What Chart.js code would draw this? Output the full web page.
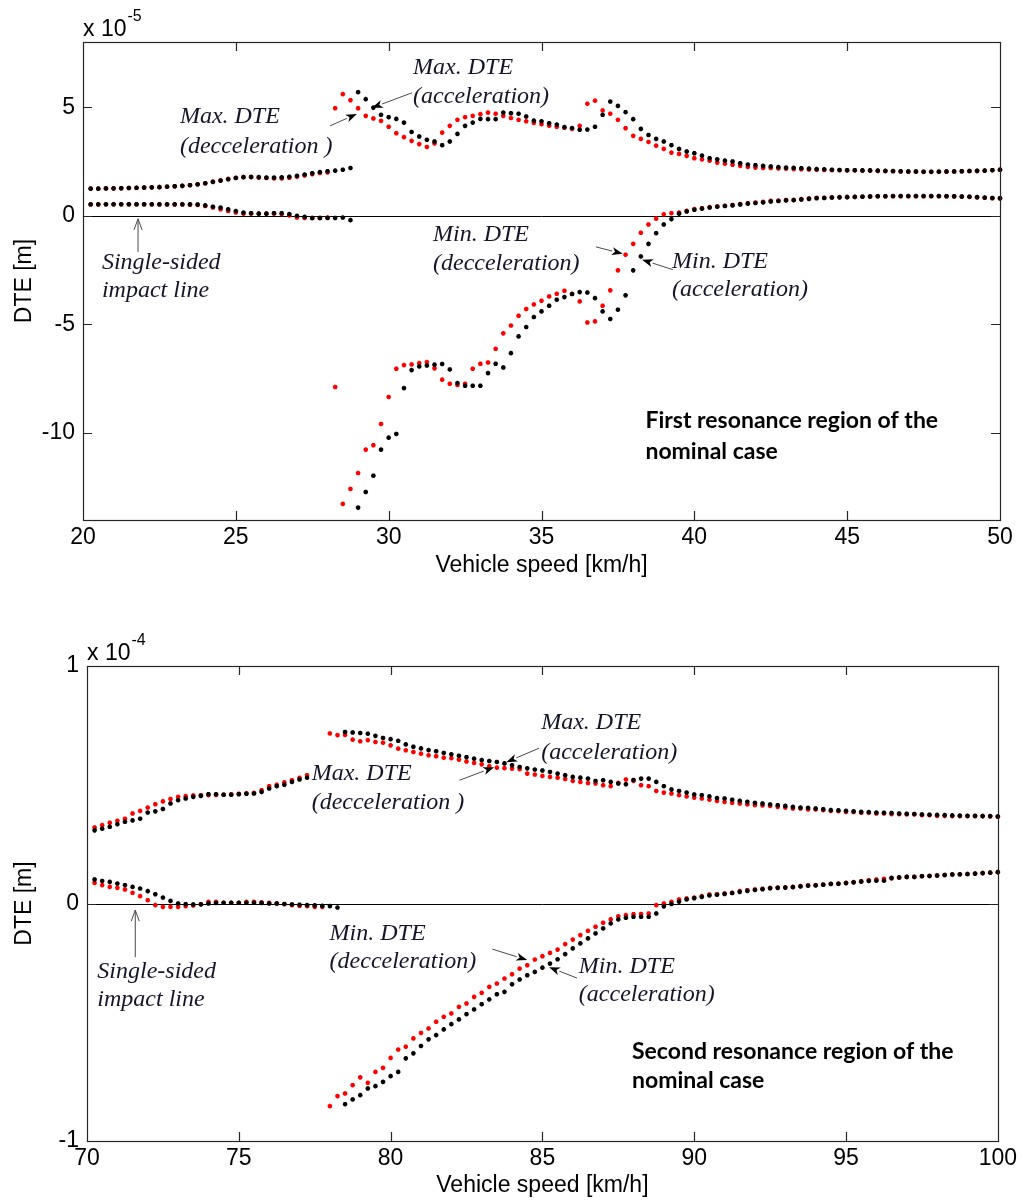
<!DOCTYPE html>
<html>
<head>
<meta charset="utf-8">
<title>DTE vs vehicle speed</title>
<script src="https://cdn.jsdelivr.net/npm/chart.js@4.4.1/dist/chart.umd.min.js"></script>
<style>
  body { margin: 0; background: #fff; }
  .panel { position: absolute; left: 0; width: 1021px; }
  #panel1 { top: 0; height: 590px; }
  #panel2 { top: 600px; height: 600px; }
</style>
</head>
<body>
<div class="panel" id="panel1"><canvas id="chart1" width="1021" height="590"></canvas></div>
<div class="panel" id="panel2"><canvas id="chart2" width="1021" height="600"></canvas></div>
<script>
// ---- first resonance region (DTE in x 1e-5 m) ----
const speed1 = [
  20.25, 20.5, 20.75, 21, 21.25, 21.5, 21.75, 22, 22.25, 22.5, 22.75, 23, 23.25, 23.5, 23.75, 24, 24.25, 24.5, 24.75, 25,
  25.25, 25.5, 25.75, 26, 26.25, 26.5, 26.75, 27, 27.25, 27.5, 27.75, 28, 28.25, 28.5, 28.75, 29, 29.25, 29.5, 29.75, 30,
  30.25, 30.5, 30.75, 31, 31.25, 31.5, 31.75, 32, 32.25, 32.5, 32.75, 33, 33.25, 33.5, 33.75, 34, 34.25, 34.5, 34.75, 35,
  35.25, 35.5, 35.75, 36, 36.25, 36.5, 36.75, 37, 37.25, 37.5, 37.75, 38, 38.25, 38.5, 38.75, 39, 39.25, 39.5, 39.75, 40,
  40.25, 40.5, 40.75, 41, 41.25, 41.5, 41.75, 42, 42.25, 42.5, 42.75, 43, 43.25, 43.5, 43.75, 44, 44.25, 44.5, 44.75, 45,
  45.25, 45.5, 45.75, 46, 46.25, 46.5, 46.75, 47, 47.25, 47.5, 47.75, 48, 48.25, 48.5, 48.75, 49, 49.25, 49.5, 49.75, 50
];
// red = decceleration, black = acceleration
const maxDecel1 = [
  1.25, 1.25, 1.26, 1.27, 1.27, 1.28, 1.29, 1.30, 1.31, 1.32, 1.34, 1.36, 1.38, 1.41, 1.45, 1.50, 1.57, 1.63, 1.70, 1.75,
  1.78, 1.78, 1.76, 1.74, 1.72, 1.72, 1.75, 1.80, 1.86, 1.92, 1.97, 2.00, 4.95, 5.60, 5.32, 4.95, 4.60, 4.48, 4.37, 4.10,
  3.80, 3.62, 3.45, 3.30, 3.17, 3.33, 3.83, 4.14, 4.42, 4.54, 4.60, 4.68, 4.75, 4.70, 4.60, 4.50, 4.42, 4.35, 4.28, 4.22,
  4.15, 4.10, 4.05, 4.00, 4.14, 5.16, 5.30, 4.85, 4.70, 4.42, 4.03, 3.68, 3.54, 3.40, 3.23, 3.08, 2.91, 2.85, 2.76, 2.65,
  2.60, 2.54, 2.45, 2.40, 2.35, 2.30, 2.25, 2.22, 2.20, 2.20, 2.18, 2.17, 2.15, 2.14, 2.13, 2.12, 2.11, 2.10, 2.10, 2.09,
  2.09, 2.08, 2.08, 2.07, 2.06, 2.05, 2.04, 2.03, 2.03, 2.02, 2.02, 2.03, 2.03, 2.04, 2.05, 2.06, 2.07, 2.08, 2.10, 2.12
];
const maxAccel1 = [
  1.25, 1.25, 1.26, 1.26, 1.27, 1.28, 1.29, 1.30, 1.31, 1.32, 1.34, 1.36, 1.38, 1.41, 1.45, 1.50, 1.56, 1.62, 1.68, 1.74,
  1.78, 1.79, 1.78, 1.76, 1.76, 1.77, 1.80, 1.84, 1.90, 1.96, 2.01, 2.05, 2.08, 2.12, 2.20, 5.69, 5.37, 4.98, 4.65, 4.54,
  4.46, 4.29, 3.86, 3.65, 3.50, 3.42, 3.25, 3.42, 3.77, 4.14, 4.29, 4.46, 4.45, 4.45, 4.75, 4.72, 4.70, 4.57, 4.38, 4.35,
  4.26, 4.20, 4.08, 4.04, 3.96, 3.97, 4.10, 4.65, 5.26, 5.06, 4.77, 4.45, 4.00, 3.72, 3.54, 3.42, 3.25, 3.08, 2.96, 2.88,
  2.77, 2.65, 2.60, 2.54, 2.50, 2.42, 2.36, 2.33, 2.30, 2.27, 2.24, 2.22, 2.21, 2.19, 2.17, 2.15, 2.14, 2.12, 2.11, 2.10,
  2.10, 2.09, 2.09, 2.08, 2.07, 2.06, 2.05, 2.04, 2.04, 2.03, 2.03, 2.03, 2.04, 2.04, 2.05, 2.06, 2.07, 2.08, 2.10, 2.12
];
const minDecel1 = [
  0.52, 0.52, 0.53, 0.53, 0.53, 0.53, 0.53, 0.53, 0.53, 0.52, 0.52, 0.52, 0.52, 0.51, 0.50, 0.45, 0.38, 0.30, 0.22, 0.15,
  0.10, 0.10, 0.10, 0.10, 0.10, 0.08, 0.02, -0.08, -0.10, -0.10, -0.10, -0.08, -7.88, -13.26, -12.57, -11.84, -10.76, -10.56, -9.58, -8.34,
  -7.04, -6.87, -6.84, -6.78, -6.73, -7.02, -7.54, -7.73, -7.79, -7.73, -7.04, -6.81, -6.75, -6.12, -5.41, -5.05, -4.60, -4.29, -4.08, -3.91,
  -3.71, -3.59, -3.45, -3.59, -3.94, -4.91, -4.86, -4.14, -3.43, -2.51, -1.79, -1.29, -0.78, -0.40, -0.13, 0.07, 0.12, 0.15, 0.23, 0.31,
  0.35, 0.40, 0.43, 0.46, 0.50, 0.54, 0.58, 0.61, 0.64, 0.69, 0.70, 0.73, 0.73, 0.77, 0.80, 0.83, 0.83, 0.85, 0.86, 0.86,
  0.87, 0.88, 0.89, 0.90, 0.90, 0.90, 0.90, 0.90, 0.90, 0.90, 0.90, 0.90, 0.90, 0.89, 0.88, 0.87, 0.85, 0.83, 0.81, 0.80
];
const minAccel1 = [
  0.53, 0.53, 0.53, 0.53, 0.53, 0.53, 0.53, 0.53, 0.53, 0.53, 0.53, 0.53, 0.53, 0.53, 0.52, 0.48, 0.42, 0.38, 0.30, 0.22,
  0.15, 0.12, 0.10, 0.10, 0.12, 0.12, 0.08, 0.00, -0.05, -0.10, -0.10, -0.10, -0.10, -0.08, -0.20, -13.43, -12.71, -11.96, -10.76, -10.21,
  -10.04, -7.93, -7.10, -6.93, -6.89, -6.85, -6.82, -7.07, -7.70, -7.82, -7.82, -7.82, -7.24, -6.81, -6.98, -6.32, -5.55, -5.12, -4.66, -4.40,
  -4.14, -3.86, -3.74, -3.60, -3.51, -3.53, -3.79, -4.40, -4.75, -4.32, -3.66, -2.51, -1.87, -1.29, -0.80, -0.40, -0.15, 0.10, 0.20, 0.28,
  0.33, 0.38, 0.42, 0.45, 0.48, 0.52, 0.56, 0.59, 0.62, 0.66, 0.68, 0.71, 0.72, 0.75, 0.78, 0.81, 0.82, 0.84, 0.85, 0.86,
  0.87, 0.88, 0.89, 0.90, 0.90, 0.91, 0.91, 0.91, 0.91, 0.91, 0.91, 0.91, 0.90, 0.90, 0.89, 0.88, 0.86, 0.84, 0.82, 0.81
];
const xTicks1 = [20, 25, 30, 35, 40, 45, 50];
const yTicks1 = [-10, -5, 0, 5];

// ---- second resonance region (DTE in x 1e-4 m) ----
const speed2 = [
  70.25, 70.5, 70.75, 71, 71.25, 71.5, 71.75, 72, 72.25, 72.5, 72.75, 73, 73.25, 73.5, 73.75, 74, 74.25, 74.5, 74.75, 75,
  75.25, 75.5, 75.75, 76, 76.25, 76.5, 76.75, 77, 77.25, 77.5, 77.75, 78, 78.25, 78.5, 78.75, 79, 79.25, 79.5, 79.75, 80,
  80.25, 80.5, 80.75, 81, 81.25, 81.5, 81.75, 82, 82.25, 82.5, 82.75, 83, 83.25, 83.5, 83.75, 84, 84.25, 84.5, 84.75, 85,
  85.25, 85.5, 85.75, 86, 86.25, 86.5, 86.75, 87, 87.25, 87.5, 87.75, 88, 88.25, 88.5, 88.75, 89, 89.25, 89.5, 89.75, 90,
  90.25, 90.5, 90.75, 91, 91.25, 91.5, 91.75, 92, 92.25, 92.5, 92.75, 93, 93.25, 93.5, 93.75, 94, 94.25, 94.5, 94.75, 95,
  95.25, 95.5, 95.75, 96, 96.25, 96.5, 96.75, 97, 97.25, 97.5, 97.75, 98, 98.25, 98.5, 98.75, 99, 99.25, 99.5, 99.75, 100
];
const maxDecel2 = [
  0.320, 0.330, 0.340, 0.348, 0.357, 0.379, 0.390, 0.404, 0.418, 0.430, 0.440, 0.449, 0.452, 0.455, 0.456, 0.456, 0.457, 0.458, 0.460, 0.462,
  0.464, 0.466, 0.477, 0.494, 0.500, 0.510, 0.519, 0.529, 0.540, 0.550, 0.556, 0.716, 0.709, 0.710, 0.690, 0.683, 0.688, 0.680, 0.677, 0.666,
  0.652, 0.645, 0.638, 0.631, 0.624, 0.620, 0.614, 0.612, 0.606, 0.598, 0.592, 0.586, 0.578, 0.572, 0.570, 0.568, 0.566, 0.547, 0.543, 0.537,
  0.533, 0.530, 0.524, 0.516, 0.512, 0.507, 0.505, 0.498, 0.494, 0.508, 0.522, 0.516, 0.498, 0.494, 0.474, 0.467, 0.463, 0.456, 0.451, 0.446,
  0.442, 0.437, 0.432, 0.428, 0.424, 0.421, 0.417, 0.414, 0.413, 0.411, 0.407, 0.404, 0.400, 0.400, 0.396, 0.396, 0.393, 0.390, 0.389, 0.386,
  0.385, 0.382, 0.382, 0.379, 0.379, 0.376, 0.376, 0.375, 0.375, 0.372, 0.372, 0.369, 0.369, 0.368, 0.368, 0.368, 0.368, 0.368, 0.367, 0.365
];
const maxAccel2 = [
  0.308, 0.315, 0.323, 0.334, 0.344, 0.350, 0.357, 0.383, 0.388, 0.398, 0.421, 0.435, 0.442, 0.449, 0.453, 0.460, 0.460, 0.458, 0.458, 0.460,
  0.462, 0.463, 0.470, 0.484, 0.494, 0.500, 0.512, 0.522, 0.530, 0.540, 0.548, 0.555, 0.560, 0.722, 0.720, 0.718, 0.715, 0.706, 0.697, 0.692,
  0.685, 0.670, 0.660, 0.653, 0.646, 0.641, 0.634, 0.628, 0.622, 0.616, 0.610, 0.604, 0.600, 0.596, 0.590, 0.582, 0.575, 0.569, 0.564, 0.560,
  0.554, 0.547, 0.540, 0.533, 0.530, 0.526, 0.516, 0.519, 0.512, 0.505, 0.502, 0.520, 0.526, 0.526, 0.512, 0.494, 0.480, 0.474, 0.467, 0.459,
  0.456, 0.451, 0.444, 0.442, 0.437, 0.432, 0.428, 0.424, 0.421, 0.417, 0.414, 0.411, 0.407, 0.404, 0.403, 0.400, 0.397, 0.393, 0.392, 0.390,
  0.388, 0.386, 0.385, 0.383, 0.382, 0.381, 0.379, 0.378, 0.377, 0.375, 0.374, 0.373, 0.372, 0.371, 0.370, 0.369, 0.369, 0.368, 0.368, 0.367
];
const minDecel2 = [
  0.087, 0.077, 0.070, 0.066, 0.059, 0.045, 0.031, 0.014, -0.007, -0.014, -0.014, -0.014, -0.011, -0.008, -0.003, 0.007, 0.007, 0.003, 0.003, 0.003,
  0.007, 0.007, 0.005, 0.003, 0.000, -0.003, -0.007, -0.010, -0.011, -0.014, -0.014, -0.853, -0.811, -0.800, -0.765, -0.732, -0.755, -0.709, -0.692, -0.650,
  -0.615, -0.603, -0.568, -0.545, -0.526, -0.498, -0.477, -0.463, -0.435, -0.421, -0.393, -0.376, -0.351, -0.337, -0.316, -0.298, -0.274, -0.260, -0.236, -0.222,
  -0.208, -0.194, -0.171, -0.152, -0.133, -0.115, -0.098, -0.081, -0.067, -0.054, -0.049, -0.045, -0.044, -0.042, -0.007, 0.000, 0.007, 0.017, 0.021, 0.025,
  0.031, 0.038, 0.039, 0.042, 0.045, 0.052, 0.056, 0.059, 0.062, 0.066, 0.067, 0.068, 0.070, 0.073, 0.076, 0.077, 0.080, 0.083, 0.084, 0.087,
  0.090, 0.094, 0.098, 0.101, 0.104, 0.106, 0.109, 0.112, 0.112, 0.115, 0.116, 0.118, 0.120, 0.122, 0.123, 0.124, 0.126, 0.128, 0.130, 0.132
];
const minAccel2 = [
  0.101, 0.095, 0.091, 0.084, 0.077, 0.070, 0.063, 0.052, 0.039, 0.025, 0.011, 0.000, -0.003, -0.004, -0.004, 0.000, 0.002, 0.003, 0.003, 0.003,
  0.003, 0.003, 0.002, 0.000, 0.000, -0.002, -0.004, -0.005, -0.007, -0.008, -0.010, -0.011, -0.017, -0.845, -0.825, -0.807, -0.779, -0.769, -0.751, -0.727,
  -0.709, -0.652, -0.631, -0.600, -0.572, -0.554, -0.530, -0.508, -0.488, -0.466, -0.446, -0.424, -0.404, -0.382, -0.372, -0.340, -0.320, -0.302, -0.288, -0.270,
  -0.253, -0.235, -0.213, -0.189, -0.168, -0.147, -0.126, -0.105, -0.084, -0.067, -0.060, -0.056, -0.056, -0.056, -0.042, -0.012, -0.002, 0.008, 0.017, 0.022,
  0.028, 0.034, 0.037, 0.040, 0.044, 0.049, 0.053, 0.057, 0.060, 0.064, 0.066, 0.067, 0.069, 0.072, 0.075, 0.076, 0.079, 0.082, 0.083, 0.086,
  0.089, 0.092, 0.095, 0.096, 0.096, 0.108, 0.110, 0.112, 0.112, 0.115, 0.116, 0.118, 0.120, 0.122, 0.123, 0.124, 0.126, 0.128, 0.130, 0.132
];
const xTicks2 = [70, 75, 80, 85, 90, 95, 100];
const yTicks2 = [-1, 0, 1];

// annotation texts, anchored in data coordinates (left edge, middle of line)
const notes1 = [
  { text: 'Max. DTE', x: 23.17, y: 4.55 }, { text: '(decceleration )', x: 23.17, y: 3.17 },
  { text: 'Max. DTE', x: 30.8, y: 6.81 }, { text: '(acceleration)', x: 30.8, y: 5.47 },
  { text: 'Single-sided', x: 20.62, y: -2.17 }, { text: 'impact line', x: 20.62, y: -3.46 },
  { text: 'Min. DTE', x: 31.45, y: -0.87 }, { text: '(decceleration)', x: 31.45, y: -2.21 },
  { text: 'Min. DTE', x: 39.27, y: -2.12 }, { text: '(acceleration)', x: 39.27, y: -3.4 }
];
const arrows1 = [
  { from: [28.08, 4.14], to: [28.96, 4.69] },
  { from: [30.76, 5.66], to: [29.45, 4.97] },
  { from: [21.8, -1.66], to: [21.8, -0.14], open: true },
  { from: [36.78, -1.43], to: [37.66, -1.75] },
  { from: [39.3, -2.48], to: [38.29, -2.02] }
];
const captions1 = [
  { text: 'First resonance region of the', x: 38.4, y: -9.43 },
  { text: 'nominal case', x: 38.4, y: -10.86 }
];

const notes2 = [
  { text: 'Max. DTE', x: 77.4, y: 0.548 }, { text: '(decceleration )', x: 77.4, y: 0.426 },
  { text: 'Max. DTE', x: 84.96, y: 0.763 }, { text: '(acceleration)', x: 84.96, y: 0.637 },
  { text: 'Single-sided', x: 70.34, y: -0.285 }, { text: 'impact line', x: 70.34, y: -0.403 },
  { text: 'Min. DTE', x: 77.99, y: -0.125 }, { text: '(decceleration)', x: 77.99, y: -0.247 },
  { text: 'Min. DTE', x: 86.2, y: -0.264 }, { text: '(acceleration)', x: 86.2, y: -0.386 }
];
const arrows2 = [
  { from: [82.27, 0.519], to: [83.41, 0.574] },
  { from: [84.89, 0.654], to: [83.81, 0.595] },
  { from: [71.59, -0.226], to: [71.59, -0.028], open: true },
  { from: [83.35, -0.192], to: [84.5, -0.238] },
  { from: [86.14, -0.314], to: [85.22, -0.268] }
];
const captions2 = [
  { text: 'Second resonance region of the', x: 87.95, y: -0.622 },
  { text: 'nominal case', x: 87.95, y: -0.744 }
];

const AXIS_FONT = { family: "'Liberation Sans', Arial, sans-serif", size: 23 };
const NOTE_FONT = "italic 24px 'Liberation Serif', 'Times New Roman', serif";
const CAPTION_FONT = "bold 23px Lato, 'Open Sans', sans-serif";

function series(xs, ys, color) {
  return {
    data: xs.map((x, i) => ({ x: x, y: ys[i] })),
    pointStyle: 'star',
    pointRadius: 2.3,
    pointBorderWidth: 1.5,
    borderColor: color,
    backgroundColor: color,
    showLine: false,
    clip: false
  };
}

function drawArrow(ctx, x1, y1, x2, y2, open) {
  const ang = Math.atan2(y2 - y1, x2 - x1);
  const len = 11, half = 4;
  const bx = x2 - Math.cos(ang) * len, by = y2 - Math.sin(ang) * len;
  const px = -Math.sin(ang) * half, py = Math.cos(ang) * half;
  ctx.strokeStyle = '#4a4a4a';
  ctx.lineWidth = 1;
  ctx.beginPath();
  ctx.moveTo(x1, y1);
  ctx.lineTo(open ? x2 : bx, open ? y2 : by);
  ctx.stroke();
  if (open) {
    ctx.beginPath();
    ctx.moveTo(bx + px, by + py);
    ctx.lineTo(x2, y2);
    ctx.lineTo(bx - px, by - py);
    ctx.stroke();
  } else {
    ctx.fillStyle = '#000';
    ctx.beginPath();
    ctx.moveTo(x2, y2);
    ctx.lineTo(bx + px, by + py);
    ctx.lineTo(bx + Math.cos(ang) * 3, by + Math.sin(ang) * 3);
    ctx.lineTo(bx - px, by - py);
    ctx.closePath();
    ctx.fill();
  }
}

// matlab style box, inner ticks, zero line, exponent and the notes
function matlabFrame(exponent, notes, arrows, captions) {
  return {
    id: 'matlabFrame',
    beforeDatasetsDraw(chart) {
      const { ctx, chartArea: a, scales: { y } } = chart;
      const y0 = Math.round(y.getPixelForValue(0)) + 0.5;
      ctx.save();
      ctx.strokeStyle = '#000';
      ctx.lineWidth = 1;
      ctx.beginPath();
      ctx.moveTo(a.left, y0);
      ctx.lineTo(a.right, y0);
      ctx.stroke();
      ctx.restore();
    },
    afterDatasetsDraw(chart) {
      const { ctx, chartArea: a, scales: { x, y } } = chart;
      ctx.save();
      ctx.strokeStyle = '#262626';
      ctx.lineWidth = 1.2;
      ctx.strokeRect(Math.round(a.left) + 0.5, Math.round(a.top) + 0.5, Math.round(a.right - a.left), Math.round(a.bottom - a.top));
      ctx.beginPath();
      x.ticks.forEach(t => {
        const px = Math.round(x.getPixelForValue(t.value)) + 0.5;
        if (px <= a.left + 1 || px >= a.right - 1) return;
        ctx.moveTo(px, a.top); ctx.lineTo(px, a.top + 9);
        ctx.moveTo(px, a.bottom); ctx.lineTo(px, a.bottom - 9);
      });
      y.ticks.forEach(t => {
        const py = Math.round(y.getPixelForValue(t.value)) + 0.5;
        if (py <= a.top + 1 || py >= a.bottom - 1) return;
        ctx.moveTo(a.left, py); ctx.lineTo(a.left + 9, py);
        ctx.moveTo(a.right, py); ctx.lineTo(a.right - 9, py);
      });
      ctx.stroke();

      // exponent label above the y axis
      ctx.fillStyle = '#000';
      ctx.textBaseline = 'alphabetic';
      ctx.textAlign = 'left';
      ctx.font = "23px 'Liberation Sans', Arial, sans-serif";
      ctx.fillText('x 10', a.left, a.top - 6);
      const w = ctx.measureText('x 10').width;
      ctx.font = "16px 'Liberation Sans', Arial, sans-serif";
      ctx.fillText(exponent, a.left + w + 1, a.top - 21);

      // italic notes with white boxes
      ctx.font = NOTE_FONT;
      ctx.textBaseline = 'middle';
      notes.forEach(n => {
        const px = x.getPixelForValue(n.x), py = y.getPixelForValue(n.y);
        const tw = ctx.measureText(n.text).width;
        ctx.fillStyle = '#fff';
        ctx.fillRect(px - 2, py - 13, tw + 4, 26);
        ctx.fillStyle = '#15152a';
        ctx.fillText(n.text, px, py);
      });
      arrows.forEach(r => {
        drawArrow(ctx,
          x.getPixelForValue(r.from[0]), y.getPixelForValue(r.from[1]),
          x.getPixelForValue(r.to[0]), y.getPixelForValue(r.to[1]), r.open);
      });
      ctx.font = CAPTION_FONT;
      ctx.fillStyle = '#000';
      captions.forEach(c => {
        ctx.fillText(c.text, x.getPixelForValue(c.x), y.getPixelForValue(c.y));
      });
      ctx.restore();
    }
  };
}

function makeChart(canvasId, cfg) {
  const ctx = document.getElementById(canvasId).getContext('2d');
  return new Chart(ctx, {
    type: 'scatter',
    data: {
      datasets: [
        series(cfg.speed, cfg.maxAccel, '#000000'),
        series(cfg.speed, cfg.minAccel, '#000000'),
        series(cfg.speed, cfg.maxDecel, '#ff0000'),
        series(cfg.speed, cfg.minDecel, '#ff0000')
      ]
    },
    options: {
      responsive: false,
      animation: false,
      devicePixelRatio: 1,
      layout: { padding: { top: cfg.top, right: 21, left: 0, bottom: 0 } },
      plugins: { legend: { display: false }, tooltip: { enabled: false } },
      scales: {
        x: {
          type: 'linear',
          min: cfg.xTicks[0],
          max: cfg.xTicks[cfg.xTicks.length - 1],
          afterBuildTicks: s => { s.ticks = cfg.xTicks.map(v => ({ value: v })); },
          afterFit: s => { s.height = cfg.xHeight; },
          grid: { display: false, drawTicks: false },
          border: { display: false },
          ticks: { font: AXIS_FONT, color: '#000', padding: 4, autoSkip: false, maxRotation: 0 },
          title: { display: true, text: 'Vehicle speed [km/h]', font: AXIS_FONT, color: '#000', padding: { top: 0, bottom: cfg.titlePad } }
        },
        y: {
          type: 'linear',
          min: cfg.yMin,
          max: cfg.yMax,
          afterBuildTicks: s => { s.ticks = cfg.yTicks.map(v => ({ value: v })); },
          afterFit: s => { s.width = cfg.yWidth; },
          grid: { display: false, drawTicks: false },
          border: { display: false },
          ticks: { font: AXIS_FONT, color: '#000', padding: 8 },
          title: { display: true, text: 'DTE [m]', font: AXIS_FONT, color: '#000', padding: { top: 11, bottom: 0 } }
        }
      }
    },
    plugins: [matlabFrame(cfg.exponent, cfg.notes, cfg.arrows, cfg.captions)]
  });
}

makeChart('chart1', {
  speed: speed1, maxDecel: maxDecel1, maxAccel: maxAccel1, minDecel: minDecel1, minAccel: minAccel1,
  xTicks: xTicks1, yTicks: yTicks1, yMin: -14, yMax: 8, exponent: '-5',
  top: 42, xHeight: 70, yWidth: 83, titlePad: 11,
  notes: notes1, arrows: arrows1, captions: captions1
});

makeChart('chart2', {
  speed: speed2, maxDecel: maxDecel2, maxAccel: maxAccel2, minDecel: minDecel2, minAccel: minAccel2,
  xTicks: xTicks2, yTicks: yTicks2, yMin: -1, yMax: 1, exponent: '-4',
  top: 66, xHeight: 59, yWidth: 87, titlePad: 1,
  notes: notes2, arrows: arrows2, captions: captions2
});
</script>
</body>
</html>
